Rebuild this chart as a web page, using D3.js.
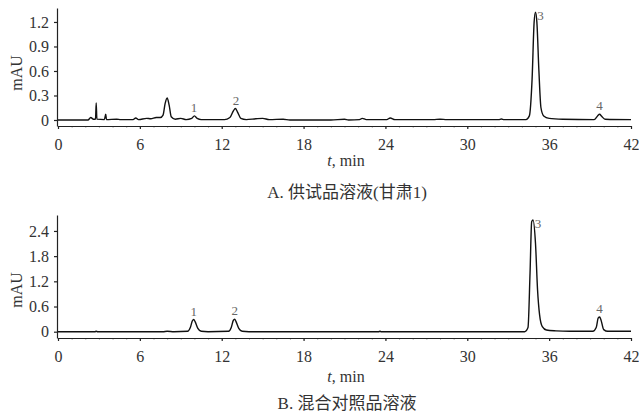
<!DOCTYPE html>
<html>
<head>
<meta charset="utf-8">
<script src="https://cdnjs.cloudflare.com/ajax/libs/d3/7.8.5/d3.min.js"></script>
<style>
  body { margin: 0; background: #fff; }
  svg text { font-family: "Liberation Serif", "DejaVu Serif", serif; fill: #333; }
  svg text.cjk { font-family: "Liberation Serif", "Noto Sans CJK SC", serif; }
</style>
</head>
<body>
<div id="graph"></div>
<script>
// ---- data ----
var xTicks = [0, 6, 12, 18, 24, 30, 36, 42];
var yTicksA = [0, 0.3, 0.6, 0.9, 1.2];
var yTicksB = [0, 0.6, 1.2, 1.8, 2.4];

// trace A: sample solution (time min, signal mAU)
var traceA_t = [0, 2.2, 2.4, 2.6, 2.75, 2.8, 2.85, 3.4, 3.5, 3.55, 4.3, 4.6, 5.5, 5.7, 5.9, 6.5, 6.8, 7.2, 7.5, 7.7, 7.85, 8.0, 8.15, 8.3, 8.6, 9.0, 9.4, 9.8, 10.0, 10.2, 10.5, 12.2, 12.6, 12.85, 13.0, 13.15, 13.4, 13.8, 14.5, 15.0, 15.5, 16.5, 17, 20, 21, 21.3, 22.1, 22.3, 22.6, 24.1, 24.35, 24.7, 27.5, 28.0, 28.5, 32.3, 32.5, 32.7, 34.3, 34.55, 34.75, 34.9, 35.0, 35.1, 35.25, 35.4, 35.6, 36.0, 37, 39.3, 39.55, 39.7, 39.85, 40.1, 42];
var traceA_v = [0, 0, 0.03, 0.01, 0.01, 0.21, 0.01, 0.005, 0.07, 0.005, 0.01, 0.005, 0.005, 0.025, 0.005, 0.02, 0.015, 0.03, 0.03, 0.06, 0.2, 0.27, 0.18, 0.04, 0.01, 0.02, 0.005, 0.02, 0.05, 0.02, 0.005, 0.005, 0.03, 0.11, 0.14, 0.10, 0.02, 0.005, 0.015, 0.02, 0.005, 0.01, 0, 0, 0.01, 0, 0.005, 0.02, 0.005, 0.005, 0.025, 0.005, 0.005, 0.01, 0.005, 0.005, 0.012, 0.005, 0.005, 0.05, 0.5, 1.2, 1.32, 1.2, 0.6, 0.15, 0.05, 0.02, 0.01, 0.005, 0.05, 0.07, 0.045, 0.01, 0.005];

// trace B: mixed reference solution
var traceB_t = [0, 2.7, 2.8, 2.9, 7.7, 8.0, 8.5, 9.5, 9.7, 9.85, 9.95, 10.05, 10.25, 10.5, 11, 12.5, 12.7, 12.85, 12.95, 13.05, 13.25, 13.5, 14, 23.5, 23.6, 23.7, 34.2, 34.45, 34.6, 34.72, 34.82, 35.0, 35.15, 35.3, 35.5, 35.8, 36.5, 37.5, 39.2, 39.45, 39.6, 39.7, 39.8, 40.0, 40.3, 42];
var traceB_v = [0, 0, 0.01, 0, 0, 0.01, 0, 0.01, 0.1, 0.26, 0.29, 0.24, 0.08, 0.01, 0, 0.01, 0.1, 0.27, 0.3, 0.24, 0.08, 0.01, 0, 0, 0.01, 0, 0, 0.1, 1.4, 2.62, 2.66, 2.1, 1.0, 0.4, 0.12, 0.04, 0.02, 0.01, 0.01, 0.1, 0.33, 0.35, 0.28, 0.05, 0.01, 0.01];

// labelled peaks
var peakNames = ["1", "2", "3", "4"];
var peakA_t = [9.97, 13.05, 35.0, 39.7];
var peakA_v = [0.05, 0.14, 1.32, 0.07];
var peakB_t = [9.95, 12.95, 34.82, 39.7];
var peakB_v = [0.29, 0.3, 2.66, 0.35];

var captionA = "A. 供试品溶液(甘肃1)";
var captionB = "B. 混合对照品溶液";

var W = 639, H = 413;
var SERIF = '"Liberation Serif", "DejaVu Serif", serif';
var svg = d3.select("#graph").append("svg")
    .attr("width", W).attr("height", H);

var x = d3.scaleLinear().domain([0, 42]).range([58, 631]);

function styleAxis(a) {
    a.attr("font-family", null).attr("font-size", null);
    a.selectAll("text").style("font-size", "16px").style("fill", "#333")
        .style("font-family", SERIF);
    a.selectAll("line,path").attr("stroke", "#222").attr("stroke-width", 1.2);
}

function panel(cfg) {
    var y = d3.scaleLinear().domain(cfg.ydom).range(cfg.yrange);
    var g = svg.append("g");
    var y0 = cfg.yrange[0];

    // y axis
    g.append("g")
        .attr("transform", "translate(57,0)")
        .call(d3.axisLeft(y).tickValues(cfg.yticks)
            .tickFormat(function (d) { return d === 0 ? "0" : d.toFixed(1); })
            .tickSize(3).tickSizeOuter(0).tickPadding(5))
        .call(styleAxis);

    // minor x ticks
    g.append("g")
        .attr("transform", "translate(0," + y0 + ")")
        .call(d3.axisBottom(x).tickValues(d3.range(0, 43, 1)).tickFormat("")
            .tickSize(1.5).tickSizeOuter(0))
        .call(function (a) {
            a.select("path").remove();
            a.selectAll("line").attr("stroke", "#555").attr("stroke-width", 0.8);
        });

    // x axis
    g.append("g")
        .attr("transform", "translate(0," + y0 + ")")
        .call(d3.axisBottom(x).tickValues(xTicks).tickSize(3).tickSizeOuter(0).tickPadding(10))
        .call(styleAxis);

    // trace
    var pts = cfg.t.map(function (t, i) { return [t, cfg.v[i]]; });
    g.append("path")
        .datum(pts)
        .attr("fill", "none")
        .attr("stroke", "#111")
        .attr("stroke-width", 1.4)
        .attr("stroke-linejoin", "round")
        .attr("d", d3.line()
            .x(function (d) { return x(d[0]); })
            .y(function (d) { return y(d[1]); })
            .curve(d3.curveMonotoneX));

    // peak labels
    peakNames.forEach(function (n, i) {
        var isBig = i === 2;
        g.append("text")
            .attr("x", x(cfg.pt[i]) + (isBig ? 5 : 0))
            .attr("y", y(cfg.pv[i]) + (isBig ? 8 : -4))
            .attr("text-anchor", "middle")
            .style("font-size", "13px")
            .style("fill", "#666")
            .text(n);
    });

    // y label
    g.append("text")
        .attr("transform", "translate(22," + cfg.ymid + ") rotate(-90)")
        .attr("text-anchor", "middle")
        .style("font-size", "16px")
        .text("mAU");

    // x label
    var xl = g.append("text")
        .attr("x", 346).attr("y", y0 + cfg.xlOff)
        .attr("text-anchor", "middle")
        .style("font-size", "16px");
    xl.append("tspan").style("font-style", "italic").text("t");
    xl.append("tspan").text(", min");

    // caption
    g.append("text")
        .attr("class", "cjk")
        .attr("x", 347).attr("y", y0 + cfg.capOff)
        .attr("text-anchor", "middle")
        .style("font-size", "17px")
        .text(cfg.caption);
}

panel({ ydom: [-0.0735, 1.371], yrange: [126, 8], yticks: yTicksA,
        t: traceA_t, v: traceA_v, pt: peakA_t, pv: peakA_v,
        ymid: 73, xlOff: 40, capOff: 72, caption: captionA });
panel({ ydom: [-0.15, 2.78], yrange: [338, 215], yticks: yTicksB,
        t: traceB_t, v: traceB_v, pt: peakB_t, pv: peakB_v,
        ymid: 290, xlOff: 44, capOff: 71, caption: captionB });
</script>
</body>
</html>
